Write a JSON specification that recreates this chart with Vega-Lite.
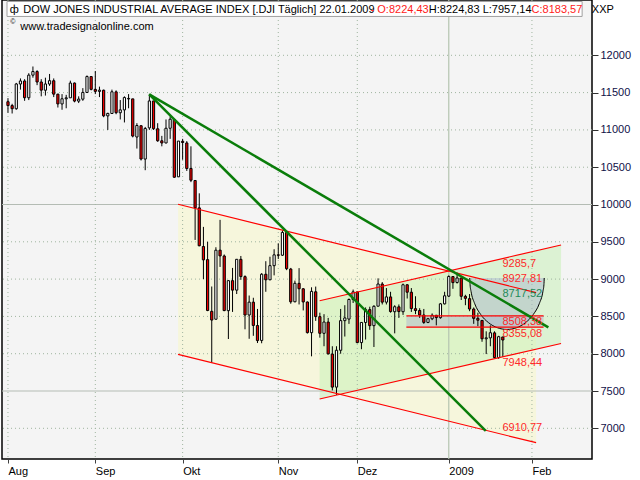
{
"$schema": "https://vega.github.io/schema/vega-lite/v6.json",
"width": 590, "height": 459,
"autosize": {"type": "none"},
"padding": {"left": 2, "top": 0, "right": 48, "bottom": 21},
"background": "#ffffff",
"config": {"view": {"fill": "#f4f4f4", "stroke": "#000000", "strokeWidth": 1.5}, "font": "Liberation Sans", "axis": {"titleOpacity": 0}},
"datasets": {
"candles": [
{"i":0,"o":11378,"h":11426,"l":11230,"c":11326.32},
{"i":1,"o":11326,"h":11350,"l":11220,"c":11284.15},
{"i":2,"o":11284,"h":11630,"l":11270,"c":11615.77},
{"i":3,"o":11615,"h":11690,"l":11540,"c":11656.07},
{"i":4,"o":11656,"h":11680,"l":11390,"c":11431.43},
{"i":5,"o":11431,"h":11760,"l":11400,"c":11734.32},
{"i":6,"o":11734,"h":11850,"l":11700,"c":11782.35},
{"i":7,"o":11782,"h":11800,"l":11600,"c":11642.47},
{"i":8,"o":11642,"h":11680,"l":11450,"c":11532.96},
{"i":9,"o":11532,"h":11700,"l":11460,"c":11615.93},
{"i":10,"o":11615,"h":11750,"l":11590,"c":11659.90},
{"i":11,"o":11659,"h":11690,"l":11440,"c":11479.39},
{"i":12,"o":11479,"h":11485,"l":11300,"c":11348.55},
{"i":13,"o":11348,"h":11480,"l":11270,"c":11417.43},
{"i":14,"o":11417,"h":11470,"l":11290,"c":11430.21},
{"i":15,"o":11430,"h":11660,"l":11430,"c":11628.06},
{"i":16,"o":11628,"h":11635,"l":11370,"c":11386.25},
{"i":17,"o":11386,"h":11450,"l":11360,"c":11412.87},
{"i":18,"o":11412,"h":11560,"l":11390,"c":11502.51},
{"i":19,"o":11502,"h":11730,"l":11500,"c":11715.18},
{"i":20,"o":11715,"h":11720,"l":11530,"c":11543.55},
{"i":21,"o":11543,"h":11790,"l":11480,"c":11516.92},
{"i":22,"o":11516,"h":11580,"l":11440,"c":11532.88},
{"i":23,"o":11532,"h":11540,"l":11170,"c":11188.23},
{"i":24,"o":11188,"h":11230,"l":11000,"c":11220.96},
{"i":25,"o":11220,"h":11540,"l":11220,"c":11510.74},
{"i":26,"o":11510,"h":11530,"l":11210,"c":11230.73},
{"i":27,"o":11230,"h":11400,"l":11140,"c":11268.92},
{"i":28,"o":11268,"h":11450,"l":11100,"c":11433.71},
{"i":29,"o":11415,"h":11480,"l":11290,"c":11421.99},
{"i":30,"o":11416,"h":11416,"l":10900,"c":10917.51},
{"i":31,"o":10905,"h":11090,"l":10750,"c":11059.02},
{"i":32,"o":11056,"h":11060,"l":10590,"c":10609.66},
{"i":33,"o":10609,"h":11040,"l":10460,"c":11019.69},
{"i":34,"o":11027,"h":11483,"l":11000,"c":11388.44},
{"i":35,"o":11388,"h":11390,"l":11000,"c":11015.69},
{"i":36,"o":11015,"h":11090,"l":10840,"c":10854.17},
{"i":37,"o":10854,"h":10920,"l":10780,"c":10825.17},
{"i":38,"o":10825,"h":11140,"l":10820,"c":11022.06},
{"i":39,"o":11022,"h":11180,"l":10880,"c":11143.13},
{"i":40,"o":11139,"h":11150,"l":10360,"c":10365.45},
{"i":41,"o":10371,"h":10850,"l":10370,"c":10850.66},
{"i":42,"o":10847,"h":10880,"l":10600,"c":10831.07},
{"i":43,"o":10825,"h":10850,"l":10450,"c":10482.85},
{"i":44,"o":10483,"h":10780,"l":10300,"c":10325.38},
{"i":45,"o":10322,"h":10322,"l":9525,"c":9955.50},
{"i":46,"o":9955,"h":10150,"l":9440,"c":9447.11},
{"i":47,"o":9437,"h":9700,"l":9000,"c":9258.10},
{"i":48,"o":9261,"h":9500,"l":8570,"c":8579.19},
{"i":49,"o":8568,"h":8901,"l":7882,"c":8451.19},
{"i":50,"o":8462,"h":9427,"l":8462,"c":9387.61},
{"i":51,"o":9388,"h":9794,"l":9163,"c":9310.99},
{"i":52,"o":9310,"h":9330,"l":8570,"c":8577.91},
{"i":53,"o":8577,"h":8985,"l":8197,"c":8979.26},
{"i":54,"o":8979,"h":9150,"l":8560,"c":8852.22},
{"i":55,"o":8852,"h":9268,"l":8800,"c":9265.43},
{"i":56,"o":9265,"h":9310,"l":8990,"c":9033.66},
{"i":57,"o":9033,"h":9050,"l":8327,"c":8519.21},
{"i":58,"o":8519,"h":8780,"l":8200,"c":8691.25},
{"i":59,"o":8691,"h":8750,"l":8240,"c":8378.95},
{"i":60,"o":8378,"h":8600,"l":8143,"c":8175.77},
{"i":61,"o":8178,"h":9080,"l":8140,"c":9065.12},
{"i":62,"o":9065,"h":9240,"l":8830,"c":8990.96},
{"i":63,"o":8991,"h":9300,"l":8985,"c":9180.69},
{"i":64,"o":9180,"h":9400,"l":9050,"c":9325.01},
{"i":65,"o":9325,"h":9480,"l":9270,"c":9319.83},
{"i":66,"o":9320,"h":9653,"l":9310,"c":9625.28},
{"i":67,"o":9625,"h":9625,"l":9120,"c":9139.27},
{"i":68,"o":9135,"h":9150,"l":8670,"c":8695.79},
{"i":69,"o":8696,"h":8980,"l":8690,"c":8943.81},
{"i":70,"o":8943,"h":9147,"l":8660,"c":8870.54},
{"i":71,"o":8870,"h":8880,"l":8580,"c":8693.96},
{"i":72,"o":8693,"h":8700,"l":8270,"c":8282.66},
{"i":73,"o":8282,"h":8890,"l":7965,"c":8835.25},
{"i":74,"o":8830,"h":8900,"l":8440,"c":8497.31},
{"i":75,"o":8497,"h":8550,"l":8215,"c":8273.58},
{"i":76,"o":8273,"h":8530,"l":8100,"c":8424.75},
{"i":77,"o":8424,"h":8480,"l":7990,"c":7997.28},
{"i":78,"o":7995,"h":8100,"l":7508,"c":7552.29},
{"i":79,"o":7552,"h":8100,"l":7449,"c":8046.42},
{"i":80,"o":8046,"h":8600,"l":8000,"c":8443.39},
{"i":81,"o":8443,"h":8650,"l":8230,"c":8479.47},
{"i":82,"o":8464,"h":8740,"l":8400,"c":8726.61},
{"i":83,"o":8726,"h":8860,"l":8680,"c":8829.04},
{"i":84,"o":8828,"h":8828,"l":8140,"c":8149.09},
{"i":85,"o":8149,"h":8420,"l":8060,"c":8419.09},
{"i":86,"o":8419,"h":8620,"l":8190,"c":8591.69},
{"i":87,"o":8591,"h":8630,"l":8320,"c":8376.24},
{"i":88,"o":8376,"h":8650,"l":8090,"c":8635.42},
{"i":89,"o":8637,"h":9010,"l":8635,"c":8934.18},
{"i":90,"o":8934,"h":8960,"l":8660,"c":8691.33},
{"i":91,"o":8691,"h":8880,"l":8660,"c":8761.42},
{"i":92,"o":8761,"h":8830,"l":8550,"c":8565.09},
{"i":93,"o":8563,"h":8650,"l":8273,"c":8629.68},
{"i":94,"o":8628,"h":8660,"l":8480,"c":8564.53},
{"i":95,"o":8563,"h":8940,"l":8520,"c":8924.14},
{"i":96,"o":8924,"h":8930,"l":8740,"c":8824.34},
{"i":97,"o":8824,"h":8880,"l":8560,"c":8604.99},
{"i":98,"o":8604,"h":8770,"l":8530,"c":8579.11},
{"i":99,"o":8579,"h":8610,"l":8480,"c":8519.69},
{"i":100,"o":8519,"h":8600,"l":8400,"c":8419.49},
{"i":101,"o":8419,"h":8480,"l":8410,"c":8468.48},
{"i":102,"o":8468,"h":8540,"l":8450,"c":8515.55},
{"i":103,"o":8515,"h":8520,"l":8380,"c":8483.93},
{"i":104,"o":8483,"h":8680,"l":8470,"c":8668.39},
{"i":105,"o":8668,"h":8830,"l":8660,"c":8776.39},
{"i":106,"o":8772,"h":9050,"l":8760,"c":9034.69},
{"i":107,"o":9034,"h":9040,"l":8870,"c":8952.89},
{"i":108,"o":8955,"h":9088,"l":8940,"c":9015.10},
{"i":109,"o":9015,"h":9015,"l":8720,"c":8769.70},
{"i":110,"o":8769,"h":8790,"l":8650,"c":8742.46},
{"i":111,"o":8738,"h":8800,"l":8570,"c":8599.18},
{"i":112,"o":8599,"h":8620,"l":8400,"c":8473.97},
{"i":113,"o":8474,"h":8550,"l":8370,"c":8448.56},
{"i":114,"o":8446,"h":8450,"l":8160,"c":8200.14},
{"i":115,"o":8200,"h":8300,"l":7995,"c":8212.49},
{"i":116,"o":8212,"h":8380,"l":8100,"c":8281.22},
{"i":117,"o":8279,"h":8300,"l":7940,"c":7949.09},
{"i":118,"o":7949,"h":8240,"l":7930,"c":8228.10},
{"i":119,"o":8224.43,"h":8224.83,"l":7957.14,"c":8183.57}
],
"channels": [
{"ch":"yellow","i":40.9,"lo":7992,"hi":10003},
{"ch":"yellow","i":127,"lo":6807,"hi":8818},
{"ch":"green","i":74.94,"lo":7393,"hi":8710},
{"ch":"green","i":133,"lo":8137,"hi":9457}
],
"redLines": [
{"i1":40.9,"v1":10003,"i2":127,"v2":8818},
{"i1":40.9,"v1":7992,"i2":127,"v2":6807},
{"i1":74.94,"v1":8710,"i2":133,"v2":9457},
{"i1":74.94,"v1":7393,"i2":133,"v2":8137},
{"i1":95.8,"v1":8508.38,"i2":128.8,"v2":8508.38},
{"i1":95.8,"v1":8355.08,"i2":128.8,"v2":8355.08}
],
"greenLines": [
{"i1":33.97,"v1":11477,"i2":129.95,"v2":8354},
{"i1":33.97,"v1":11477,"i2":114.9,"v2":6964}
],
"zone": [{"i1":95.8,"i2":128.8,"lo":8355.08,"hi":8508.38}],
"bowl": [
{"i":111.04,"v":9015},{"i":111.117,"v":8924.9},{"i":111.35,"v":8836.4},{"i":112.24,"v":8670},
{"i":113.66,"v":8527.1},{"i":115.52,"v":8417.5},{"i":117.68,"v":8348.5},{"i":120,"v":8325},
{"i":122.32,"v":8348.5},{"i":124.48,"v":8417.5},{"i":126.34,"v":8527.1},{"i":127.76,"v":8670},
{"i":128.65,"v":8836.4},{"i":128.883,"v":8924.9},{"i":128.96,"v":9015}
],
"gridH": [
{"v":7000,"s":0},{"v":7500,"s":1},{"v":8000,"s":0},{"v":8500,"s":0},{"v":9000,"s":0},{"v":9500,"s":0},
{"v":10000,"s":1},{"v":10500,"s":0},{"v":11000,"s":0},{"v":11500,"s":0},{"v":12000,"s":0}
],
"gridV": [
{"i":0,"s":0},{"i":21,"s":0},{"i":42,"s":0},{"i":65,"s":0},{"i":84,"s":0},{"i":106,"s":1},{"i":126,"s":0}
],
"levels": [
{"i":118.9,"v":9202,"t":"9285,7","k":"r"},
{"i":118.9,"v":9001,"t":"8927,81","k":"r"},
{"i":118.9,"v":8800,"t":"8717,52","k":"g"},
{"i":118.9,"v":8425,"t":"8508,38","k":"r"},
{"i":118.9,"v":8264,"t":"8355,08","k":"r"},
{"i":118.9,"v":7875,"t":"7948,44","k":"r"},
{"i":118.9,"v":7004,"t":"6910,77","k":"r"}
],
"headBox": [{"i1":-0.236,"i2":138.07,"lo":12521,"hi":12721}],
"header": [
{"i":0.45,"v":12607,"t":"ф","k":"b"},
{"i":3.66,"v":12607,"t":"DOW JONES INDUSTRIAL AVERAGE INDEX [.DJI Täglich] 22.01.2009","k":"b"},
{"i":87.2,"v":12607,"t":"- O:8224,43","k":"r"},
{"i":101.2,"v":12607,"t":"H:8224,83 L:7957,14","k":"b"},
{"i":125.9,"v":12607,"t":"C:8183,57","k":"r"},
{"i":0.55,"v":12440,"t":"©","k":"s"},
{"i":2.98,"v":12386,"t":"www.tradesignalonline.com","k":"b"},
{"i":140.4,"v":12607,"t":"XXP","k":"b"}
]
},
"layer": [
{"data": {"name": "channels"}, "transform": [{"filter": "datum.ch == 'yellow'"}],
 "mark": {"type": "area", "color": "#f6f6dc", "opacity": 1},
 "encoding": {
  "x": {"field": "i", "type": "quantitative", "title": null,
   "scale": {"domain": [-0.236, 139.24], "nice": false, "zero": false},
   "axis": {"orient": "bottom", "values": [0, 21, 42, 65, 84, 106, 126],
    "labelExpr": "datum.value == 0 ? 'Aug' : datum.value == 21 ? 'Sep' : datum.value == 42 ? 'Okt' : datum.value == 65 ? 'Nov' : datum.value == 84 ? 'Dez' : datum.value == 106 ? '2009' : 'Feb'",
    "grid": false, "domain": false, "tickSize": 4, "tickColor": "#404040", "labelAlign": "left", "labelPadding": 2, "labelDx": 1,
    "labelFontSize": 11, "labelColor": "#000000", "labelFont": "Liberation Sans", "labelFlush": false, "labelOverlap": false, "title": null}},
  "y": {"field": "lo", "type": "quantitative", "title": null,
   "scale": {"domain": [6588.5, 12741.4], "nice": false, "zero": false},
   "axis": {"orient": "right", "values": [7000, 7500, 8000, 8500, 9000, 9500, 10000, 10500, 11000, 11500, 12000],
    "format": "d", "grid": false, "domain": false, "tickSize": 6, "tickColor": "#303030", "labelPadding": 2,
    "labelFontSize": 11, "labelColor": "#101048", "labelFont": "Liberation Sans", "labelFlush": false, "labelOverlap": false, "title": null}},
  "y2": {"field": "hi"}
 }},
{"data": {"name": "channels"}, "transform": [{"filter": "datum.ch == 'green'"}],
 "mark": {"type": "area", "color": "#c8f0b8", "opacity": 0.55},
 "encoding": {"x": {"field": "i", "type": "quantitative"}, "y": {"field": "lo", "type": "quantitative"}, "y2": {"field": "hi"}}},
{"data": {"name": "gridH"}, "transform": [{"filter": "datum.s == 0"}],
 "mark": {"type": "rule", "color": "#9fb49f", "strokeWidth": 1, "strokeDash": [1, 3]},
 "encoding": {"y": {"field": "v", "type": "quantitative"}}},
{"data": {"name": "gridH"}, "transform": [{"filter": "datum.s == 1"}],
 "mark": {"type": "rule", "color": "#b4bcb4", "strokeWidth": 1.2},
 "encoding": {"y": {"field": "v", "type": "quantitative"}}},
{"data": {"name": "gridV"}, "transform": [{"filter": "datum.s == 0"}],
 "mark": {"type": "rule", "color": "#9fb49f", "strokeWidth": 1, "strokeDash": [1, 3]},
 "encoding": {"x": {"field": "i", "type": "quantitative"}}},
{"data": {"name": "gridV"}, "transform": [{"filter": "datum.s == 1"}],
 "mark": {"type": "rule", "color": "#b4c4b0", "strokeWidth": 1.2},
 "encoding": {"x": {"field": "i", "type": "quantitative"}}},
{"data": {"name": "zone"},
 "mark": {"type": "rect", "color": "#b4bccc", "opacity": 0.55},
 "encoding": {"x": {"field": "i1", "type": "quantitative"}, "x2": {"field": "i2"}, "y": {"field": "lo", "type": "quantitative"}, "y2": {"field": "hi"}}},
{"data": {"name": "bowl"},
 "mark": {"type": "area", "color": "#aab8d0", "opacity": 0.5, "interpolate": "monotone"},
 "encoding": {"x": {"field": "i", "type": "quantitative"}, "y": {"field": "v", "type": "quantitative"}, "y2": {"datum": 9015}}},
{"data": {"name": "bowl"},
 "mark": {"type": "line", "color": "#000000", "strokeWidth": 1, "interpolate": "monotone"},
 "encoding": {"x": {"field": "i", "type": "quantitative"}, "y": {"field": "v", "type": "quantitative"}}},
{"data": {"name": "candles"},
 "mark": {"type": "rule", "color": "#000000", "strokeWidth": 1},
 "encoding": {"x": {"field": "i", "type": "quantitative"}, "y": {"field": "l", "type": "quantitative"}, "y2": {"field": "h"}}},
{"data": {"name": "candles"},
 "mark": {"type": "bar", "size": 2.2, "stroke": "#000000", "strokeWidth": 1},
 "encoding": {"x": {"field": "i", "type": "quantitative"}, "y": {"field": "o", "type": "quantitative"}, "y2": {"field": "c"},
  "fill": {"condition": {"test": "datum.c < datum.o", "value": "#f00000"}, "value": "#ffffff"}}},
{"data": {"name": "redLines"},
 "mark": {"type": "rule", "color": "#ff0000", "strokeWidth": 1.2},
 "encoding": {"x": {"field": "i1", "type": "quantitative"}, "x2": {"field": "i2"}, "y": {"field": "v1", "type": "quantitative"}, "y2": {"field": "v2"}}},
{"data": {"name": "greenLines"},
 "mark": {"type": "rule", "color": "#0a7d0a", "strokeWidth": 2.5},
 "encoding": {"x": {"field": "i1", "type": "quantitative"}, "x2": {"field": "i2"}, "y": {"field": "v1", "type": "quantitative"}, "y2": {"field": "v2"}}},
{"data": {"name": "levels"}, "transform": [{"filter": "datum.k == 'r'"}],
 "mark": {"type": "text", "align": "left", "baseline": "middle", "font": "Liberation Sans", "fontSize": 11, "color": "#ff2a2a"},
 "encoding": {"x": {"field": "i", "type": "quantitative"}, "y": {"field": "v", "type": "quantitative"}, "text": {"field": "t"}}},
{"data": {"name": "levels"}, "transform": [{"filter": "datum.k == 'g'"}],
 "mark": {"type": "text", "align": "left", "baseline": "middle", "font": "Liberation Sans", "fontSize": 11, "color": "#1e8a5a"},
 "encoding": {"x": {"field": "i", "type": "quantitative"}, "y": {"field": "v", "type": "quantitative"}, "text": {"field": "t"}}},
{"data": {"name": "headBox"},
 "mark": {"type": "rect", "fill": "#ffffff", "stroke": "#a0a0a0", "strokeWidth": 1},
 "encoding": {"x": {"field": "i1", "type": "quantitative"}, "x2": {"field": "i2"}, "y": {"field": "lo", "type": "quantitative"}, "y2": {"field": "hi"}}},
{"data": {"name": "header"}, "transform": [{"filter": "datum.k == 'b'"}],
 "mark": {"type": "text", "align": "left", "baseline": "middle", "font": "Liberation Sans", "fontSize": 11, "color": "#000000"},
 "encoding": {"x": {"field": "i", "type": "quantitative"}, "y": {"field": "v", "type": "quantitative"}, "text": {"field": "t"}}},
{"data": {"name": "header"}, "transform": [{"filter": "datum.k == 's'"}],
 "mark": {"type": "text", "align": "left", "baseline": "middle", "font": "Liberation Sans", "fontSize": 7, "color": "#000000"},
 "encoding": {"x": {"field": "i", "type": "quantitative"}, "y": {"field": "v", "type": "quantitative"}, "text": {"field": "t"}}},
{"data": {"name": "header"}, "transform": [{"filter": "datum.k == 'r'"}],
 "mark": {"type": "text", "align": "left", "baseline": "middle", "font": "Liberation Sans", "fontSize": 11, "color": "#ff1a1a"},
 "encoding": {"x": {"field": "i", "type": "quantitative"}, "y": {"field": "v", "type": "quantitative"}, "text": {"field": "t"}}}
]
}
